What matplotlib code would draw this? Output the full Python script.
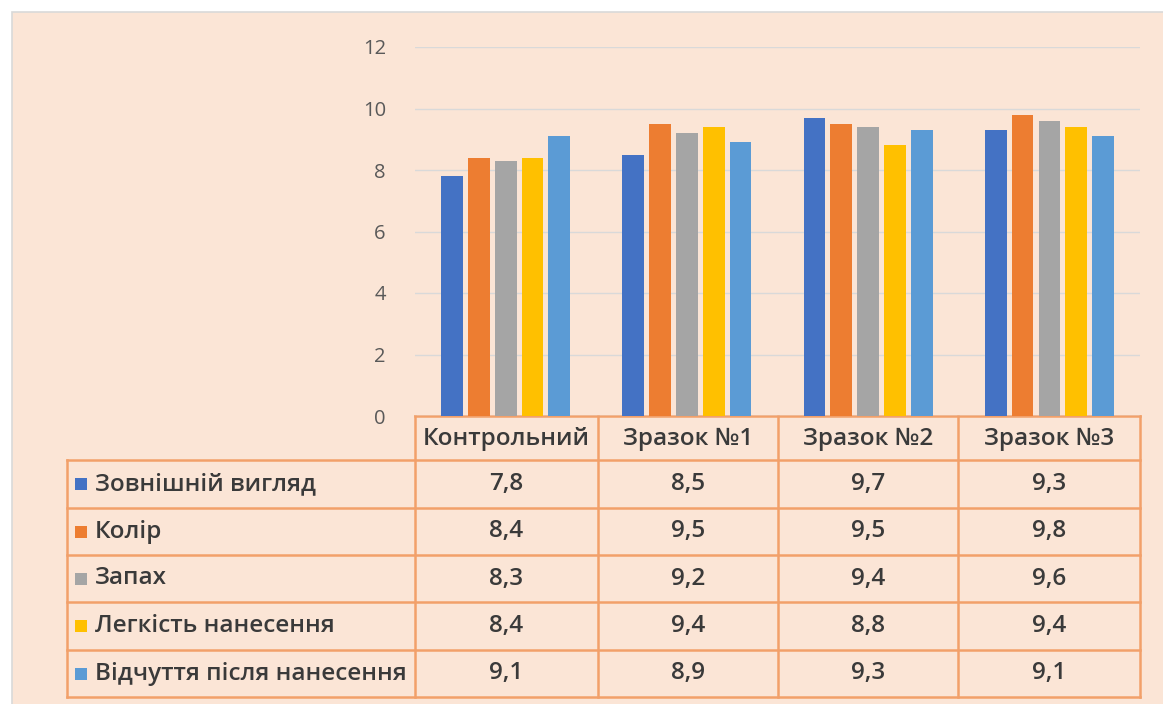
import matplotlib
matplotlib.use("Agg")
import matplotlib.pyplot as plt
from matplotlib.patches import Rectangle
import numpy as np

plt.rcParams['font.family'] = ['Open Sans', 'Noto Sans', 'DejaVu Sans']

categories = ['Контрольний', 'Зразок №1', 'Зразок №2', 'Зразок №3']
series_names = ['Зовнішній вигляд', 'Колір', 'Запах', 'Легкість нанесення',
                'Відчуття після нанесення']
zovnishnii = [7.8, 8.5, 9.7, 9.3]
kolir = [8.4, 9.5, 9.5, 9.8]
zapakh = [8.3, 9.2, 9.4, 9.6]
lehkist = [8.4, 9.4, 8.8, 9.4]
vidchuttia = [9.1, 8.9, 9.3, 9.1]
series_values = [zovnishnii, kolir, zapakh, lehkist, vidchuttia]
colors = ['#4472C4', '#ED7D31', '#A5A5A5', '#FFC000', '#5B9BD5']
y_ticks = [0, 2, 4, 6, 8, 10, 12]

W, H = 1163, 704
fig = plt.figure(figsize=(W / 100, H / 100), dpi=100)
fig.patch.set_facecolor('white')

# overlay axes in pixel coords
tax = fig.add_axes([0, 0, 1, 1])
tax.set_xlim(0, W)
tax.set_ylim(H, 0)
tax.axis('off')
tax.add_patch(Rectangle((12, 12), W, H, facecolor='#FBE5D6',
                        edgecolor='#D9D9D9', linewidth=1.2, zorder=0))

# bar axes
px_l, px_r, px_top, px_bot = 415, 1140, 47, 416
ax = fig.add_axes([px_l / W, 1 - px_bot / H, (px_r - px_l) / W, (px_bot - px_top) / H])
ax.set_facecolor('none')
ax.set_xlim(-0.5, len(categories) - 0.5)
ax.set_ylim(0, 12)
ax.set_yticks(y_ticks)
ax.set_yticklabels([str(t) for t in y_ticks], fontsize=14.5, color='#595959')
ax.tick_params(axis='y', length=0, pad=21)
ax.set_xticks([])
for s in ax.spines.values():
    s.set_visible(False)
ax.grid(axis='y', color='#D9D9D9', linewidth=1)
ax.set_axisbelow(True)

n = len(series_names)
pitch = 0.148
bw = 0.12
x = np.arange(len(categories))
for i, (vals, c) in enumerate(zip(series_values, colors)):
    ax.bar(x + (i - (n - 1) / 2) * pitch, vals, width=bw, color=c, zorder=3)

# data table
border = '#F2A06A'
lw = 1.8
col_x = [67, 415, 598, 778, 958, 1140]
row_y = [416, 460, 508, 555, 602, 650, 697]
txt_color = '#3A3A3A'
tax.plot([col_x[1], col_x[-1]], [row_y[0], row_y[0]], color=border, lw=lw)
for cx in col_x[1:]:
    tax.plot([cx, cx], [row_y[0], row_y[-1]], color=border, lw=lw)
tax.plot([col_x[0], col_x[0]], [row_y[1], row_y[-1]], color=border, lw=lw)
for ry in row_y[1:]:
    tax.plot([col_x[0], col_x[-1]], [ry, ry], color=border, lw=lw)

fs = 17.5
fw = 'semibold'
for j, cat in enumerate(categories):
    cx = (col_x[j + 1] + col_x[j + 2]) / 2
    tax.text(cx, (row_y[0] + row_y[1]) / 2 + 1, cat, ha='center', va='center',
             fontsize=fs, color=txt_color, fontweight=fw)
for i, (name, vals, c) in enumerate(zip(series_names, series_values, colors)):
    yc = (row_y[i + 1] + row_y[i + 2]) / 2
    tax.add_patch(Rectangle((75, yc - 6), 12, 12, facecolor=c, edgecolor='none'))
    tax.text(95, yc, name, ha='left', va='center', fontsize=fs, color=txt_color,
             fontweight=fw)
    for j, v in enumerate(vals):
        cx = (col_x[j + 1] + col_x[j + 2]) / 2
        tax.text(cx, yc, f'{v:.1f}'.replace('.', ','), ha='center', va='center',
                 fontsize=fs, color=txt_color, fontweight=fw)

fig.savefig('out.png', dpi=100, facecolor=fig.get_facecolor())
